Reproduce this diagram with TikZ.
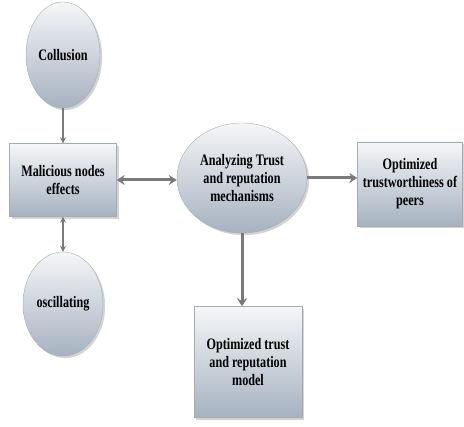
\documentclass[tikz,border=0pt]{standalone}
\usepackage{fontspec}
\newfontfamily\lblfont[FakeStretch=0.76]{Liberation Serif}
\usepackage{tikz}
\usetikzlibrary{arrows.meta,shapes.geometric,shadows}
\definecolor{BoxTop}{HTML}{F5F6F8}
\definecolor{BoxBot}{HTML}{A6B2C0}
\definecolor{BoxLine}{HTML}{A3ACB6}
\definecolor{LinkGray}{HTML}{7A7A7A}

\tikzset{
  blob/.style={ellipse, draw=BoxLine, top color=BoxTop, bottom color=BoxBot,
    drop shadow={opacity=0.35}, inner sep=0pt, align=center,
    font=\lblfont\bfseries\fontsize{16}{18}\selectfont},
  card/.style={rectangle, draw=BoxLine, top color=BoxTop, bottom color=BoxBot,
    drop shadow={opacity=0.35}, inner sep=0pt, align=center,
    font=\lblfont\bfseries\fontsize{16}{18}\selectfont},
  link/.style={draw=LinkGray, line width=3pt, -{Stealth[length=8pt,width=10pt]}},
  thin link/.style={draw=LinkGray, line width=1.6pt, -{Stealth[length=6pt,width=6pt]}}
}

\begin{document}
\begin{tikzpicture}[x=1pt,y=-1pt]
  \useasboundingbox (0,0) rectangle (464,427);

  \node[blob, minimum width=74pt, minimum height=106pt] (collusion) at (63,55) {Collusion};
  \node[card, minimum width=107pt, minimum height=73pt] (malicious) at (63,180) {Malicious nodes\\effects};
  \node[blob, minimum width=80pt, minimum height=104pt] (oscill) at (63,304) {oscillating};

  \node[blob, minimum width=130pt, minimum height=110pt] (analyze) at (242,178) {Analyzing Trust\\and reputation\\mechanisms};

  \node[card, minimum width=105pt, minimum height=84pt] (peers) at (410,184) {Optimized\\trustworthiness of\\peers};
  \node[card, minimum width=108pt, minimum height=111pt] (model) at (248,362) {Optimized trust\\and reputation\\model};

  % links
  \draw[thin link] (collusion.south) -- (malicious.north);
  \draw[thin link, {Stealth[length=6pt,width=6pt]}-{Stealth[length=6pt,width=6pt]}] (malicious.south) -- (oscill.north);
  \draw[link, {Stealth[length=8pt,width=10pt]}-{Stealth[length=8pt,width=10pt]}] (malicious.east) -- (malicious.east -| analyze.west);
  \draw[link] (analyze.east) -- (analyze.east -| peers.west);
  \draw[link] (analyze.south) -- (analyze.south |- model.north);

\end{tikzpicture}
\end{document}
